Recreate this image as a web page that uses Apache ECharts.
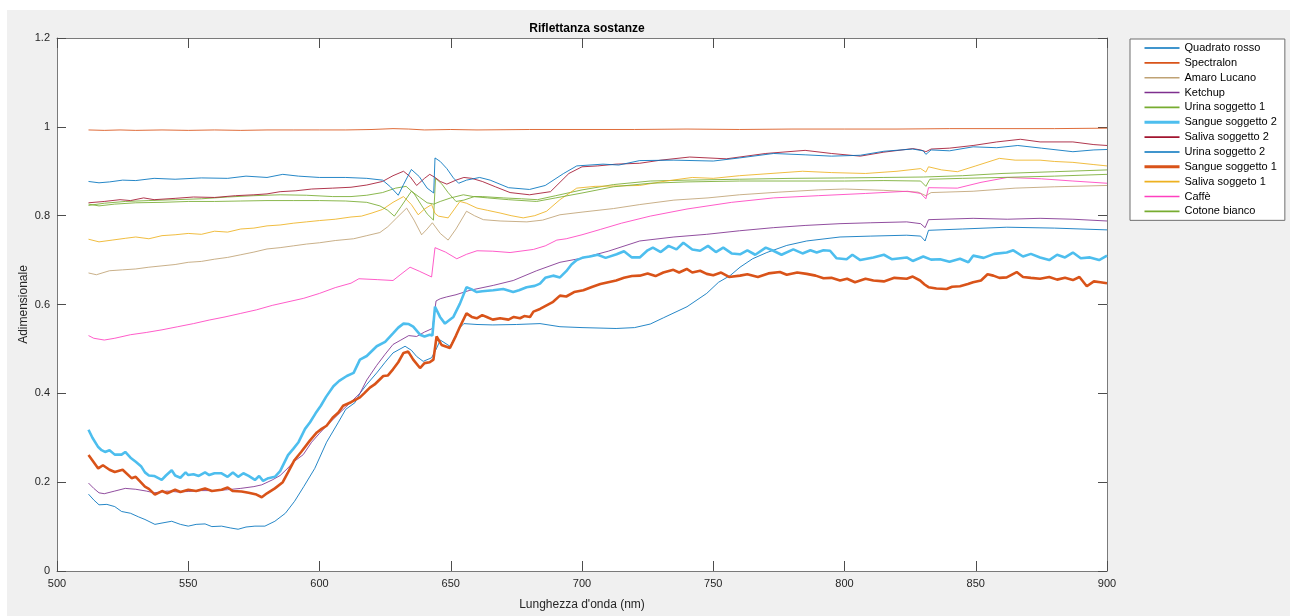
<!DOCTYPE html>
<html>
<head>
<meta charset="utf-8">
<title>Riflettanza sostanze</title>
<script src="https://cdn.jsdelivr.net/npm/echarts@6/dist/echarts.min.js"></script>
<style>
  html, body { margin: 0; padding: 0; background: #ffffff; }
  #chart { width: 1290px; height: 616px; }
</style>
</head>
<body>
<div id="chart"></div>
<script>
// Reflectance spectra, [wavelength nm, reflectance] pairs
const quadratoRosso = [[512,0.173],[514,0.160],[516,0.149],[519,0.150],[522,0.145],[524.6,0.134],[528,0.130],[531,0.122],[533.5,0.116],[537.3,0.105],[540,0.108],[543.7,0.112],[547,0.105],[550,0.101],[553,0.105],[556.4,0.106],[559,0.100],[562.7,0.101],[566,0.097],[569,0.094],[572,0.099],[575.4,0.101],[579.2,0.101],[583,0.112],[587,0.130],[590.5,0.157],[594,0.190],[598.2,0.231],[602.7,0.290],[607.2,0.335],[610,0.364],[613.5,0.379],[615.4,0.400],[618,0.420],[621.8,0.446],[625,0.470],[628,0.491],[632.6,0.506],[635,0.497],[637,0.483],[639.5,0.472],[642.7,0.480],[644.5,0.500],[646,0.520],[649.7,0.506],[651.5,0.525],[653.5,0.548],[655,0.557],[660,0.555],[666,0.554],[675,0.555],[684,0.557],[691.6,0.550],[700,0.548],[713,0.546],[720,0.548],[726,0.556],[731,0.570],[740,0.595],[747.5,0.625],[752,0.650],[756.4,0.665],[760.2,0.684],[765,0.703],[770.4,0.717],[778,0.733],[785.6,0.743],[798.3,0.752],[810,0.754],[823.7,0.756],[829,0.754],[830.7,0.743],[832,0.767],[845,0.770],[861.8,0.774],[880,0.772],[900,0.768]];

const spectralon = [[512,0.993],[518,0.992],[524,0.993],[530,0.992],[540,0.993],[550,0.992],[560,0.993],[570,0.992],[580,0.993],[590,0.993],[600,0.993],[610,0.993],[620,0.994],[628,0.996],[634,0.995],[640,0.993],[650,0.994],[660,0.993],[680,0.994],[700,0.994],[720,0.994],[740,0.995],[760,0.994],[780,0.995],[800,0.995],[820,0.995],[840,0.996],[860,0.996],[880,0.996],[900,0.997]];

const amaroLucano = [[512,0.671],[515,0.667],[520,0.676],[525,0.678],[530,0.680],[535,0.684],[540,0.687],[545,0.690],[550,0.695],[555,0.697],[560,0.702],[565,0.706],[570,0.712],[575,0.718],[580,0.725],[585,0.728],[590,0.732],[595,0.736],[600,0.739],[606,0.744],[613,0.748],[618,0.755],[623,0.762],[626,0.775],[629.4,0.795],[633.2,0.817],[636,0.790],[638.9,0.757],[641,0.770],[643,0.784],[646,0.760],[649,0.745],[652,0.770],[656,0.810],[659,0.800],[662.4,0.791],[668.8,0.788],[679,0.786],[685,0.790],[691.6,0.802],[700,0.808],[712,0.816],[722,0.825],[735,0.835],[748,0.840],[760,0.847],[775,0.853],[790,0.858],[800,0.860],[815,0.857],[828,0.853],[831,0.845],[833,0.852],[849,0.855],[865,0.862],[880,0.865],[900,0.868]];

const ketchup = [[512,0.198],[514,0.186],[516,0.176],[518,0.174],[522,0.180],[526,0.186],[530,0.184],[534,0.180],[537,0.176],[542,0.180],[546,0.178],[550,0.179],[555,0.181],[560,0.181],[565,0.183],[570,0.186],[575,0.190],[578,0.194],[582,0.205],[585,0.215],[588,0.232],[590,0.245],[593.8,0.262],[597,0.290],[600,0.310],[602.7,0.327],[607,0.352],[611,0.375],[615.4,0.400],[618,0.430],[621.8,0.463],[625,0.488],[628,0.510],[631,0.520],[634,0.530],[637,0.528],[640,0.538],[643,0.546],[644.4,0.608],[646,0.613],[648.4,0.617],[652,0.622],[657.3,0.632],[666.2,0.643],[673.8,0.654],[682.7,0.676],[691.6,0.695],[700.5,0.705],[710,0.720],[722,0.743],[735,0.752],[747.5,0.758],[760,0.766],[772.9,0.773],[785,0.778],[798.3,0.782],[810,0.784],[823.7,0.786],[829,0.782],[830.7,0.773],[832,0.791],[849,0.794],[862,0.792],[874.5,0.794],[887,0.792],[900,0.788]];

const urinaSoggetto1 = [[512,0.823],[518,0.828],[526,0.832],[535,0.834],[545,0.836],[555,0.838],[565,0.842],[575,0.845],[585,0.847],[595,0.846],[605,0.843],[612,0.843],[618,0.846],[624,0.852],[629,0.862],[633,0.866],[636,0.850],[639,0.822],[641,0.804],[643.4,0.790],[644.2,0.884],[646.5,0.872],[649,0.852],[652,0.832],[655,0.835],[659,0.843],[662,0.843],[670,0.840],[677,0.838],[683,0.836],[690,0.845],[700,0.858],[712,0.870],[726,0.878],[740,0.880],[760,0.882],[780,0.884],[800,0.885],[815,0.886],[830,0.887],[845,0.890],[860,0.895],[880,0.899],[900,0.903]];

const sangueSoggetto2 = [[512,0.318],[513.5,0.300],[515.7,0.279],[517,0.272],[518.3,0.268],[520,0.272],[522,0.262],[524.6,0.262],[526,0.268],[528,0.255],[530,0.246],[532,0.236],[533.5,0.222],[535,0.215],[537,0.214],[539.9,0.205],[541.5,0.215],[543.7,0.227],[545,0.215],[547,0.210],[549,0.222],[550,0.216],[552,0.218],[554,0.214],[556.4,0.222],[558,0.216],[560,0.220],[562.7,0.220],[565,0.212],[567,0.222],[569,0.212],[571,0.220],[573,0.214],[575.4,0.205],[577,0.214],[578.5,0.203],[580.5,0.209],[583,0.212],[585,0.225],[588,0.261],[590,0.275],[592,0.290],[594.5,0.320],[596.4,0.335],[598.5,0.355],[600.5,0.372],[602.5,0.392],[605.3,0.416],[607.5,0.428],[610.4,0.439],[613,0.446],[615.4,0.476],[618,0.484],[621.8,0.506],[625,0.516],[628,0.535],[630,0.548],[632,0.557],[634,0.556],[635.7,0.550],[638.3,0.532],[640,0.528],[642,0.532],[643,0.530],[644,0.595],[645.9,0.572],[647.8,0.557],[649.5,0.565],[651,0.572],[653.5,0.602],[656,0.639],[658,0.634],[659.9,0.628],[662,0.630],[666.2,0.632],[670,0.635],[673.8,0.628],[676,0.632],[678.9,0.639],[682,0.642],[684,0.647],[686,0.660],[689,0.665],[691.6,0.661],[694,0.675],[696,0.690],[698,0.700],[700.5,0.706],[703,0.708],[706,0.712],[709,0.705],[713.2,0.713],[716,0.720],[719,0.706],[722,0.706],[725,0.722],[727,0.728],[730,0.718],[733,0.732],[736,0.724],[738.6,0.739],[742,0.724],[745,0.721],[748,0.732],[751,0.718],[753.8,0.728],[757,0.715],[760.2,0.713],[763,0.722],[766,0.712],[770,0.728],[772.9,0.721],[776,0.712],[780.5,0.724],[784,0.715],[787,0.722],[789.4,0.717],[792,0.722],[794.5,0.721],[797,0.704],[800.8,0.702],[803,0.712],[806,0.700],[811,0.706],[815,0.712],[818,0.702],[823.7,0.706],[826,0.698],[830,0.708],[833,0.701],[836.4,0.702],[840,0.696],[844,0.703],[847.2,0.695],[849,0.710],[853,0.705],[857,0.714],[861.8,0.717],[864.3,0.722],[868,0.708],[871,0.714],[874.5,0.706],[878,0.700],[881,0.712],[884,0.706],[887,0.717],[890,0.704],[893.5,0.706],[897,0.700],[900,0.710]];

const salivaSoggetto2 = [[512,0.829],[518,0.832],[524,0.836],[528,0.834],[533,0.840],[537,0.836],[545,0.839],[552,0.842],[560,0.841],[568,0.845],[575,0.847],[580,0.849],[585,0.854],[591,0.856],[597,0.860],[605,0.862],[612,0.864],[618,0.869],[624,0.877],[628,0.890],[632,0.900],[634.5,0.888],[637,0.868],[640,0.884],[642,0.893],[644,0.886],[646,0.877],[648.5,0.871],[652,0.880],[655,0.886],[658,0.884],[662,0.877],[667,0.865],[672.6,0.852],[680,0.847],[688,0.854],[695,0.895],[700,0.910],[706,0.912],[713,0.916],[722,0.918],[730,0.925],[741,0.932],[755,0.928],[770,0.940],[785,0.947],[795,0.940],[806,0.934],[815,0.943],[826,0.951],[829,0.948],[831,0.944],[833,0.950],[840,0.952],[849,0.958],[858,0.966],[867,0.972],[874.5,0.966],[887,0.966],[895,0.960],[900,0.958]];

const urinaSoggetto2 = [[512,0.877],[516,0.874],[520,0.876],[525,0.880],[530,0.879],[537,0.884],[545,0.882],[555,0.885],[565,0.884],[572,0.889],[580,0.886],[586,0.893],[592,0.889],[600,0.886],[610,0.886],[618,0.884],[624,0.880],[627,0.865],[630,0.846],[632,0.870],[635,0.904],[638,0.888],[641,0.862],[643.5,0.851],[644,0.930],[646,0.922],[648.5,0.906],[651,0.885],[653,0.873],[656,0.880],[661,0.886],[665,0.880],[672,0.863],[680,0.859],[686,0.868],[693,0.895],[698,0.912],[708,0.916],[714,0.914],[722,0.924],[735,0.925],[750,0.923],[760,0.930],[773,0.940],[785,0.937],[795,0.934],[806,0.936],[815,0.945],[826,0.950],[830,0.946],[831,0.938],[833,0.948],[840,0.946],[849,0.955],[858,0.953],[866,0.958],[875,0.952],[887,0.944],[895,0.948],[900,0.949]];

const sangueSoggetto1 = [[512,0.261],[514,0.245],[515.7,0.231],[517.5,0.238],[520,0.228],[522,0.223],[525,0.228],[528.4,0.209],[530,0.212],[533.5,0.190],[535,0.185],[537.3,0.172],[540,0.180],[542,0.175],[545,0.183],[547,0.178],[550,0.183],[553,0.180],[556.4,0.186],[559,0.180],[562.7,0.183],[565,0.188],[567,0.180],[570.3,0.179],[573,0.176],[576,0.172],[578,0.166],[580,0.175],[583,0.186],[586,0.200],[588,0.222],[590.5,0.250],[593,0.268],[596.4,0.294],[599,0.312],[600.8,0.320],[602.7,0.327],[605,0.345],[607.2,0.357],[609,0.372],[612,0.380],[615.4,0.391],[617,0.400],[619.2,0.413],[621,0.420],[624.3,0.439],[626,0.440],[628,0.454],[630,0.470],[632,0.491],[633.8,0.494],[635.7,0.476],[638.3,0.457],[640,0.468],[642,0.470],[643.4,0.476],[644.6,0.528],[646.5,0.509],[649.7,0.502],[652,0.530],[653.5,0.550],[656,0.580],[658,0.572],[659.9,0.569],[662,0.576],[663.7,0.572],[666,0.566],[668.8,0.569],[672,0.566],[674,0.572],[676.4,0.569],[678,0.574],[680.2,0.572],[681.5,0.584],[684,0.590],[686.5,0.598],[689,0.606],[691.6,0.620],[694,0.618],[697,0.628],[700.5,0.632],[704,0.640],[707,0.646],[710,0.650],[713,0.654],[716,0.660],[719,0.664],[722,0.665],[725,0.670],[728,0.664],[731,0.672],[734.8,0.678],[737,0.672],[739.9,0.680],[742,0.672],[745,0.676],[747.5,0.669],[750,0.666],[753,0.672],[756,0.662],[760.2,0.665],[763,0.668],[767,0.662],[771,0.670],[775.4,0.673],[778,0.667],[782,0.672],[785.6,0.669],[789,0.665],[792,0.659],[795,0.660],[798.3,0.654],[801,0.658],[804,0.650],[808,0.658],[811,0.654],[815,0.652],[819,0.660],[823.7,0.658],[826,0.663],[828.8,0.654],[830.5,0.645],[832,0.639],[835,0.636],[838.9,0.635],[841,0.640],[844,0.641],[847,0.646],[849,0.650],[852,0.654],[854.5,0.668],[856.7,0.665],[859,0.660],[861.8,0.661],[865.6,0.673],[868,0.662],[871,0.660],[874.5,0.658],[878,0.662],[881,0.656],[884,0.660],[887,0.655],[889.5,0.662],[892.3,0.641],[895,0.652],[897.5,0.650],[900,0.648]];

const salivaSoggetto1 = [[512,0.747],[516,0.741],[521,0.745],[526,0.749],[530,0.752],[535,0.748],[540,0.755],[545,0.757],[550,0.760],[555,0.758],[560,0.765],[565,0.763],[570,0.770],[575,0.772],[580,0.777],[585,0.779],[590,0.783],[595,0.786],[600,0.789],[606,0.792],[612,0.797],[616,0.799],[620,0.806],[624,0.814],[628,0.830],[632,0.843],[635,0.825],[637.6,0.802],[640,0.815],[642.7,0.825],[644,0.805],[645.3,0.799],[649,0.795],[653.5,0.832],[656,0.828],[660,0.817],[664,0.812],[668.8,0.806],[673,0.800],[677.6,0.795],[682,0.800],[686.5,0.810],[691.6,0.836],[698,0.862],[705,0.866],[714,0.867],[722,0.868],[732,0.878],[742,0.886],[750,0.884],[760,0.890],[772,0.895],[784,0.900],[795,0.897],[808,0.895],[820,0.900],[829,0.906],[831,0.898],[832,0.910],[837,0.903],[843,0.899],[850,0.912],[859,0.929],[865,0.925],[874.5,0.925],[880,0.922],[887,0.920],[895,0.915],[900,0.912]];

const caffe = [[512,0.530],[514,0.524],[518,0.520],[522,0.524],[528,0.532],[534,0.537],[540,0.543],[546,0.550],[552,0.557],[558,0.565],[564,0.572],[570,0.580],[576,0.588],[582,0.598],[588,0.606],[594,0.614],[600,0.625],[606,0.638],[612,0.648],[615,0.658],[622,0.656],[628,0.654],[631,0.668],[634.5,0.684],[638,0.675],[642.7,0.662],[644,0.728],[648,0.718],[652.3,0.703],[656,0.713],[660,0.721],[666,0.720],[672.6,0.717],[681.5,0.724],[686,0.732],[690.4,0.745],[694,0.748],[700,0.757],[707,0.769],[715,0.783],[726,0.799],[740,0.815],[757,0.830],[773,0.840],[790,0.845],[808,0.850],[824,0.855],[829,0.850],[831,0.838],[832,0.863],[843,0.862],[852,0.875],[862,0.886],[875,0.883],[887,0.878],[900,0.873]];

const cotoneBianco = [[512,0.826],[516,0.822],[522,0.826],[530,0.829],[540,0.830],[550,0.832],[560,0.832],[570,0.833],[580,0.834],[590,0.834],[600,0.834],[610,0.833],[618,0.830],[623,0.822],[626,0.812],[628.5,0.799],[631,0.820],[635,0.855],[638,0.842],[641,0.829],[643.5,0.826],[646,0.832],[650,0.840],[654.8,0.847],[658.6,0.843],[664,0.840],[672,0.836],[682.7,0.832],[690,0.840],[700,0.851],[712,0.865],[726,0.873],[740,0.876],[760,0.878],[780,0.878],[800,0.878],[815,0.879],[829,0.878],[831,0.866],[832.5,0.882],[845,0.884],[860,0.886],[880,0.889],[900,0.893]];

const seriesNames = ['Quadrato rosso', 'Spectralon', 'Amaro Lucano', 'Ketchup', 'Urina soggetto 1',
  'Sangue soggetto 2', 'Saliva soggetto 2', 'Urina soggetto 2', 'Sangue soggetto 1',
  'Saliva soggeto 1', 'Caffè', 'Cotone bianco'];
const seriesData = [quadratoRosso, spectralon, amaroLucano, ketchup, urinaSoggetto1,
  sangueSoggetto2, salivaSoggetto2, urinaSoggetto2, sangueSoggetto1,
  salivaSoggetto1, caffe, cotoneBianco];
const seriesColors = ['#0072BD', '#D95319', '#BFA274', '#7E2F8E', '#77AC30',
  '#4DBEEE', '#A2142F', '#0072BD', '#D95319', '#EDB120', '#FF40C0', '#77AC30'];
const seriesWidths = [1, 1, 1, 1, 1, 2.6, 1, 1, 2.6, 1, 1, 1];

const xTicks = [500, 900, 50];   // min, max, step
const yTicks = [0, 1.2, 0.2];

const FONT = 'Liberation Sans, Arial, sans-serif';
const AXIS_GREY = '#7a7a7a';
const TEXT_DARK = '#262626';

const gridBox = { left: 57, top: 38, width: 1050, height: 539 };

const chart = echarts.init(document.getElementById('chart'), null, { renderer: 'canvas' });

function xAxisDef(pos, labels) {
  return {
    type: 'value', position: pos, min: xTicks[0], max: xTicks[1], interval: xTicks[2],
    axisLine: { show: true, onZero: false, lineStyle: { color: AXIS_GREY, width: 1 } },
    axisTick: { show: true, inside: true, length: 10, lineStyle: { color: '#4d4d4d' } },
    axisLabel: { show: labels, color: TEXT_DARK, fontFamily: FONT, fontSize: 11, margin: 7 },
    splitLine: { show: false },
    name: labels ? "Lunghezza d'onda (nm)" : '',
    nameLocation: 'middle', nameGap: 28, nameMoveOverlap: false,
    nameTextStyle: { color: TEXT_DARK, fontFamily: FONT, fontSize: 12 }
  };
}
function yAxisDef(pos, labels) {
  return {
    type: 'value', position: pos, min: yTicks[0], max: yTicks[1], interval: yTicks[2],
    axisLine: { show: true, onZero: false, lineStyle: { color: AXIS_GREY, width: 1 } },
    axisTick: { show: true, inside: true, length: 9, lineStyle: { color: '#4d4d4d' } },
    axisLabel: { show: labels, color: TEXT_DARK, fontFamily: FONT, fontSize: 11, margin: 7 },
    splitLine: { show: false },
    name: labels ? 'Adimensionale' : '',
    nameLocation: 'middle', nameGap: 27, nameRotate: 90, nameMoveOverlap: false,
    nameTextStyle: { color: TEXT_DARK, fontFamily: FONT, fontSize: 12 }
  };
}

const option = {
  animation: false,
  backgroundColor: '#ffffff',
  textStyle: { fontFamily: FONT },
  graphic: [{
    type: 'rect', z: -10, silent: true,
    shape: { x: 7, y: 10, width: 1283, height: 606 },
    style: { fill: '#f0f0f0' }
  }],
  title: {
    text: 'Riflettanza sostanze',
    left: gridBox.left + gridBox.width / 2, top: 18, textAlign: 'center',
    textStyle: { color: '#000000', fontFamily: FONT, fontSize: 12, fontWeight: 'bold' }
  },
  grid: Object.assign({ show: true, backgroundColor: '#ffffff', borderWidth: 0 }, gridBox),
  legend: {
    orient: 'vertical', left: 1130, top: 39,
    padding: [3, 8, 3, 13],
    itemWidth: 35, itemHeight: 8, itemGap: 2.85,
    itemStyle: { opacity: 0 },
    backgroundColor: '#ffffff', borderColor: '#6e6e6e', borderWidth: 1, borderRadius: 0,
    textStyle: { color: '#000000', fontFamily: FONT, fontSize: 11, lineHeight: 12 },
    data: seriesNames.map((name, i) => ({
      name: name,
      lineStyle: { color: seriesColors[i], width: seriesWidths[i] > 1 ? 3 : 1.6, opacity: 1 }
    }))
  },
  xAxis: [xAxisDef('bottom', true), xAxisDef('top', false)],
  yAxis: [yAxisDef('left', true), yAxisDef('right', false)],
  series: seriesNames.map((name, i) => ({
    name: name,
    type: 'line',
    xAxisIndex: 0, yAxisIndex: 0,
    data: seriesData[i],
    showSymbol: false, symbol: 'none',
    smooth: false,
    lineStyle: { color: seriesColors[i], width: seriesWidths[i], opacity: seriesWidths[i] > 1 ? 1 : 0.85 },
    itemStyle: { color: seriesColors[i] },
    emphasis: { disabled: true }
  }))
};

chart.setOption(option);
</script>
</body>
</html>
